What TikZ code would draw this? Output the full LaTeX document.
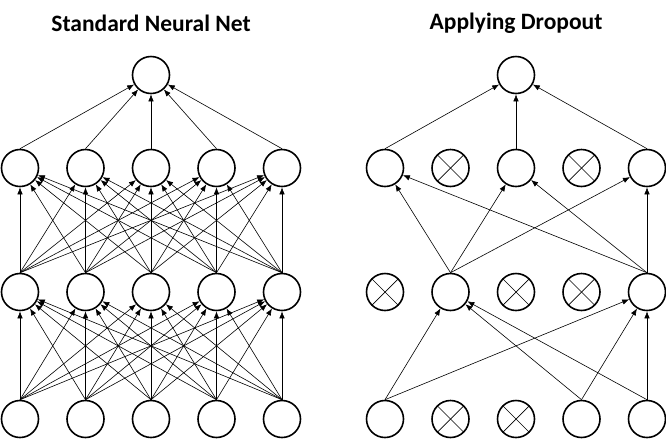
\documentclass[tikz,border=0pt]{standalone}
\usepackage{fontspec}
\setmainfont{Carlito}
\usetikzlibrary{arrows.meta}

\tikzset{
  neuron/.style={draw, circle, minimum size=37pt, inner sep=0pt, line width=1.6pt, fill=white},
  dropped/.style={neuron, path picture={
      \draw[line width=0.7pt] (path picture bounding box.north east) -- (path picture bounding box.south west);
      \draw[line width=0.7pt] (path picture bounding box.north west) -- (path picture bounding box.south east);}},
  link/.style={->, line width=0.6pt},
  title/.style={font=\bfseries\fontsize{23.5}{28}\selectfont}
}

\begin{document}
\begin{tikzpicture}[x=1pt, y=-1pt, >={Latex[length=7pt,width=5.5pt]}]
\useasboundingbox (0,0) rectangle (666,440);
\def \gap {65.5}

% titles
\node[title] (tl) at (151,23) {Standard Neural Net};
\node[title] (tr) at (516,23) {Applying Dropout};

% standard net
\foreach \i in {1,...,5} {
  \node[neuron] at ({20+\gap*(\i-1)},419) (lin\i) {};
  \node[neuron] at ({20+\gap*(\i-1)},292) (lha\i) {};
  \node[neuron] at ({20+\gap*(\i-1)},168) (lhb\i) {};
}
\node[neuron] at (151,75) (lout) {};
\foreach \i in {1,...,5} {
  \foreach \j in {1,...,5} {
    \draw[link] (lin\i.north) -- (lha\j);
    \draw[link] (lha\i.north) -- (lhb\j);
  }
  \draw[link] (lhb\i.north) -- (lout);
}

% dropout net
\foreach \i/\s in {1/neuron, 2/dropped, 3/dropped, 4/neuron, 5/neuron} {
  \node[\s] at ({385+\gap*(\i-1)},419) (rin\i) {};
}
\foreach \i/\s in {1/dropped, 2/neuron, 3/dropped, 4/dropped, 5/neuron} {
  \node[\s] at ({385+\gap*(\i-1)},292) (rha\i) {};
}
\foreach \i/\s in {1/neuron, 2/dropped, 3/neuron, 4/dropped, 5/neuron} {
  \node[\s] at ({385+\gap*(\i-1)},168) (rhb\i) {};
}
\node[neuron] at (516,75) (rout) {};
\foreach \i in {1,4,5} {
  \foreach \j in {2,5} {
    \draw[link] (rin\i.north) -- (rha\j);
  }
}
\foreach \i in {2,5} {
  \foreach \j in {1,3,5} {
    \draw[link] (rha\i.north) -- (rhb\j);
  }
}
\foreach \i in {1,3,5} {
  \draw[link] (rhb\i.north) -- (rout);
}
\end{tikzpicture}
\end{document}
